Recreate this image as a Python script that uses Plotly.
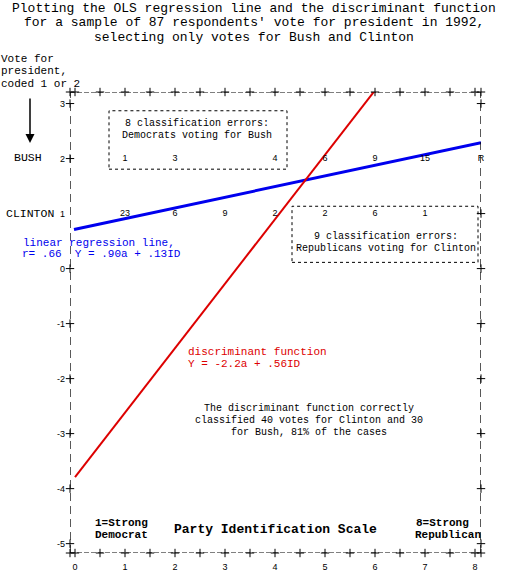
import plotly.graph_objects as go

# ---- data ----
x_ticks = [0, 1, 2, 3, 4, 5, 6, 7, 8]
y_ticks = [3, 2, 1, 0, -1, -2, -3, -4, -5]
bush_ids = [1, 2, 4, 5, 6, 7]
bush_counts = ["1", "3", "4", "6", "9", "15"]
clinton_ids = [1, 2, 3, 4, 5, 6, 7]
clinton_counts = ["23", "6", "9", "2", "2", "6", "1"]
ols_x = [-0.02, 8.12]
ols_y = [0.71, 2.29]
disc_x = [0.0, 6.0]
disc_y = [-3.79, 3.24]
half_ticks = [i / 2 for i in range(17)]

W, H = 506, 572
L, R, T, B = 70, 25, 92, 19
X0, X1 = -0.1, 8.12
Y0, Y1 = -5.17, 3.21
PW, PH = W - L - R, H - T - B

MONO = "Liberation Mono"
SANS = "Liberation Sans"
BLUE = "#0000ee"
RED = "#dd0000"


def px(xp, yp):
    """pixel -> paper coords"""
    return (xp - L) / PW, (H - B - yp) / PH


fig = go.Figure()

# frame (dashed)
fig.add_shape(type="line", x0=X0, x1=X0, y0=Y0, y1=Y1, line=dict(color="black", width=1.3, dash="8px,5px"))
fig.add_shape(type="line", x0=X1, x1=X1, y0=Y0, y1=Y1, line=dict(color="black", width=1.3, dash="8px,5px"))
fig.add_shape(type="line", x0=X0, x1=X1, y0=Y1, y1=Y1, line=dict(color="black", width=1, dash="5px,2px"))
fig.add_shape(type="line", x0=X0, x1=X1, y0=Y0, y1=Y0, line=dict(color="black", width=1, dash="5px,2px"))

# dotted boxes
fig.add_shape(type="rect", x0=0.68, x1=4.24, y0=1.807, y1=2.869, line=dict(color="black", width=1, dash="dot"))
fig.add_shape(type="rect", x0=4.34, x1=8.06, y0=0.113, y1=1.133, line=dict(color="black", width=1, dash="dot"))

plus = dict(symbol="cross-thin", size=6, line=dict(color="black", width=1), color="black")
# plus ticks on top and bottom
for yv in (Y0, Y1):
    fig.add_trace(go.Scatter(x=[X0] + half_ticks + [X1], y=[yv] * (len(half_ticks) + 2), mode="markers",
                             marker=plus, cliponaxis=False, showlegend=False, hoverinfo="skip"))
# left ticks (none at 1), right ticks (none at 2)
fig.add_trace(go.Scatter(x=[X0] * 8, y=[v for v in y_ticks if v != 1], mode="markers",
                         marker=plus, cliponaxis=False, showlegend=False, hoverinfo="skip"))
fig.add_trace(go.Scatter(x=[X1] * 8, y=[v for v in y_ticks if v != 2], mode="markers",
                         marker=plus, cliponaxis=False, showlegend=False, hoverinfo="skip"))

# lines
fig.add_trace(go.Scatter(x=ols_x, y=ols_y, mode="lines", line=dict(color=BLUE, width=3),
                         showlegend=False, hoverinfo="skip", cliponaxis=False))
fig.add_trace(go.Scatter(x=disc_x, y=disc_y, mode="lines", line=dict(color=RED, width=2),
                         showlegend=False, hoverinfo="skip", cliponaxis=False))

# counts
cf = dict(family=SANS, size=9, color="black")
fig.add_trace(go.Scatter(x=bush_ids, y=[2] * len(bush_ids), mode="text", text=bush_counts,
                         textfont=cf, showlegend=False, hoverinfo="skip", cliponaxis=False))
fig.add_trace(go.Scatter(x=clinton_ids, y=[1] * len(clinton_ids), mode="text", text=clinton_counts,
                         textfont=cf, showlegend=False, hoverinfo="skip", cliponaxis=False))
fig.add_trace(go.Scatter(x=[X1], y=[2], mode="text", text=["R"],
                         textfont=cf, showlegend=False, hoverinfo="skip", cliponaxis=False))

ann = []


def text_px(t, xpix, ypix, size, family=MONO, color="black", xanchor="center"):
    xp, yp = px(xpix, ypix)
    ann.append(dict(text=t, x=xp, y=yp, xref="paper", yref="paper", xanchor=xanchor, yanchor="middle",
                    showarrow=False, font=dict(family=family, size=size, color=color)))


# title
for i, line in enumerate(["Plotting the OLS regression line and the discriminant function",
                          "for a sample of 87 respondents' vote for president in 1992,",
                          "selecting only votes for Bush and Clinton"]):
    text_px(line, 254, 8.5 + 14.3 * i, 13)

# y-axis title
for i, line in enumerate(["Vote for", "president,", "coded 1 or 2"]):
    text_px(line, -1, 59 + 12.3 * i, 11, xanchor="left")

text_px("BUSH", 28, 157.5, 11.5)
text_px("CLINTON", 30, 213.5, 11.5)

# box texts
text_px("8 classification errors:", 197, 123, 10)
text_px("Democrats voting for Bush", 197, 135.5, 10)
text_px("9 classification errors:", 386, 236.5, 10)
text_px("Republicans voting for Clinton", 386, 248.5, 10)

# regression text
text_px("linear regression line,", 21, 243, 11, color=BLUE, xanchor="left")
text_px("r= .66  Y = .90a + .13ID", 20, 254.5, 11, color=BLUE, xanchor="left")

# discriminant text
text_px("discriminant function", 186, 352, 11, color=RED, xanchor="left")
text_px("Y = -2.2a + .56ID", 186, 364, 11, color=RED, xanchor="left")

# correct classification text
for i, line in enumerate(["The discriminant function correctly",
                          "classified 40 votes for Clinton and 30",
                          "for Bush, 81% of the cases"]):
    text_px(line, 309, 408 + 12 * i, 10)

# bottom labels
text_px("<b>1=Strong</b>", 93, 523, 11, xanchor="left")
text_px("<b>Democrat</b>", 93, 535, 11, xanchor="left")
text_px("<b>Party Identification Scale</b>", 275, 529, 13)
text_px("<b>8=Strong</b>", 414, 523, 11, xanchor="left")
text_px("<b>Republican</b>", 413, 535, 11, xanchor="left")

# arrow
xh, yh = px(30, 143)
ann.append(dict(x=xh, y=yh, ax=0, ay=-46, xref="paper", yref="paper", axref="pixel", ayref="pixel",
                text="", showarrow=True, arrowhead=2, arrowsize=1.2, arrowwidth=1.5, arrowcolor="black"))

fig.update_layout(
    width=W, height=H, margin=dict(l=L, r=R, t=T, b=B, autoexpand=False),
    plot_bgcolor="white", paper_bgcolor="white",
    annotations=ann, showlegend=False,
    xaxis=dict(range=[X0, X1], showgrid=False, zeroline=False, showline=False, ticks="", automargin=False,
               tickvals=x_ticks, ticktext=[str(v) for v in x_ticks],
               tickfont=dict(family=SANS, size=9, color="black"), ticklabelstandoff=7, fixedrange=True),
    yaxis=dict(range=[Y0, Y1], showgrid=False, zeroline=False, showline=False, ticks="", automargin=False,
               tickvals=y_ticks, ticktext=[str(v) for v in y_ticks],
               tickfont=dict(family=SANS, size=9, color="black"), ticklabelstandoff=4, fixedrange=True),
)

fig.write_html("out.html", config={"displayModeBar": False, "staticPlot": True},
               post_script="document.body.style.margin='0';document.body.style.overflow='hidden';")
